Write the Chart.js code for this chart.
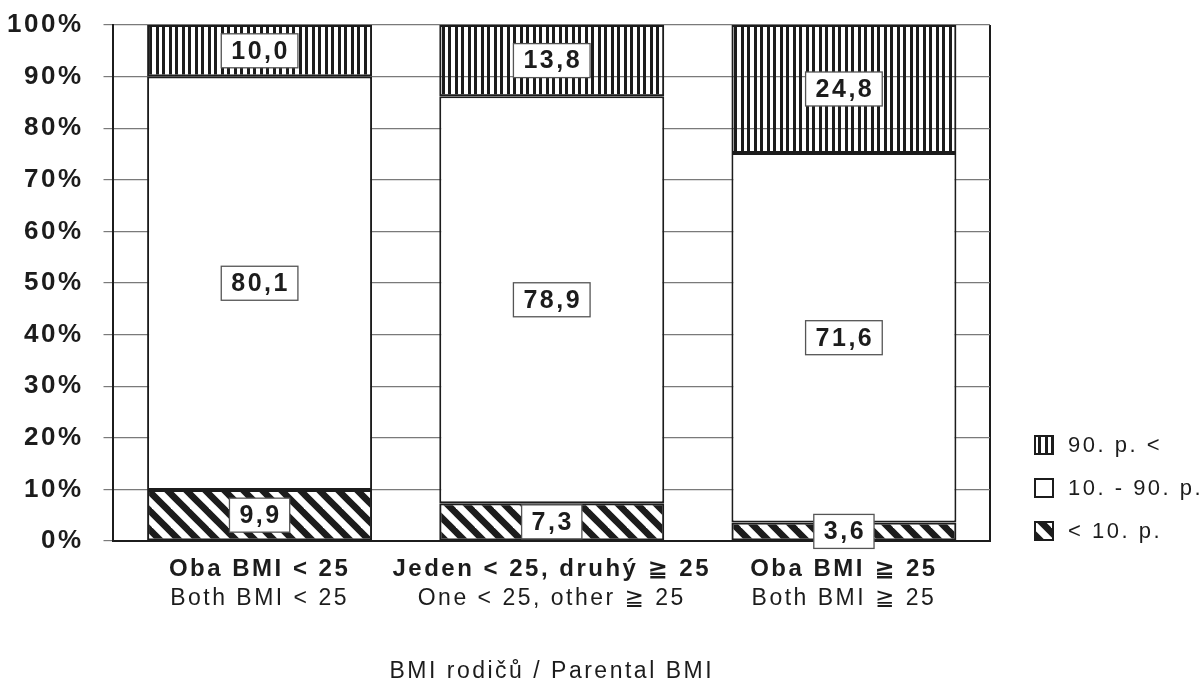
<!DOCTYPE html>
<html lang="cs">
<head>
<meta charset="utf-8">
<title>BMI rodičů / Parental BMI</title>
<script src="https://cdn.jsdelivr.net/npm/chart.js@4.4.1/dist/chart.umd.min.js"></script>
<style>
  html, body { margin: 0; padding: 0; background: #fff; }
  #wrap { width: 1203px; height: 684px; }
</style>
</head>
<body>
<div id="wrap"><canvas id="chart" width="1203" height="684"></canvas></div>
<script>
// Categories: Czech (bold line) and English (regular line)
const categoriesCz = ['Oba BMI < 25', 'Jeden < 25, druhý ≧ 25', 'Oba BMI ≧ 25'];
const categoriesEn = ['Both BMI < 25', 'One < 25, other ≧ 25', 'Both BMI ≧ 25'];

// Percent of children in each percentile band
const below10 = [9.9, 7.3, 3.6];
const between10and90 = [80.1, 78.9, 71.6];
const above90 = [10.0, 13.8, 24.8];

const seriesLabels = ['< 10. p.', '10. - 90. p.', '90. p. <'];
const axisTitle = 'BMI rodičů / Parental BMI';

const FONT = '"Liberation Sans", "DejaVu Sans", Arial, sans-serif';
const INK = '#1c1c1c';
const TRACK = '2.5px';

// Fill patterns
function verticalStripes() {
  const t = document.createElement('canvas');
  t.width = 13; t.height = 4;
  const g = t.getContext('2d');
  g.fillStyle = INK;
  g.fillRect(0, 0, 3, 4);
  g.fillRect(6, 0, 3, 4);
  return g.createPattern(t, 'repeat');
}
function diagonalStripes() {
  const s = 19;
  const t = document.createElement('canvas');
  t.width = s; t.height = s;
  const g = t.getContext('2d');
  g.strokeStyle = INK;
  g.lineWidth = 6.6;
  for (let k = -1; k <= 1; k++) {
    g.beginPath();
    g.moveTo(k * s - 3, -3);
    g.lineTo(k * s + s + 3, s + 3);
    g.stroke();
  }
  return g.createPattern(t, 'repeat');
}
const patTop = verticalStripes();
const patBottom = diagonalStripes();

const fmt = v => v.toFixed(1).replace('.', ',');

// Tracked lettering for all canvas text
const tracking = {
  id: 'tracking',
  beforeUpdate(c) { c.ctx.letterSpacing = TRACK; },
  beforeLayout(c) { c.ctx.letterSpacing = TRACK; },
  beforeDraw(c) { c.ctx.letterSpacing = TRACK; }
};

// Boxed value labels in the middle of each segment
const valueBoxes = {
  id: 'valueBoxes',
  afterDatasetsDraw(chart) {
    const ctx = chart.ctx;
    ctx.save();
    ctx.font = 'bold 25px ' + FONT;
    ctx.textAlign = 'center';
    ctx.textBaseline = 'middle';
    chart.data.datasets.forEach((ds, d) => {
      const meta = chart.getDatasetMeta(d);
      meta.data.forEach((bar, i) => {
        const txt = fmt(ds.data[i]);
        const w = ctx.measureText(txt).width + 18;
        const h = 34;
        const cx = bar.x;
        const cy = (bar.y + bar.base) / 2;
        ctx.fillStyle = '#fff';
        ctx.fillRect(cx - w / 2, cy - h / 2, w, h);
        ctx.strokeStyle = '#555';
        ctx.lineWidth = 1.3;
        ctx.strokeRect(cx - w / 2, cy - h / 2, w, h);
        ctx.fillStyle = INK;
        ctx.fillText(txt, cx + 1, cy + 1);
      });
    });
    ctx.restore();
  }
};

// Legend column to the right of the plot, top band first
const sideLegend = {
  id: 'sideLegend',
  afterDraw(chart) {
    const ctx = chart.ctx;
    const area = chart.chartArea;
    const x0 = area.right + 45;
    const yStart = area.bottom - 96;
    const step = 43;
    const box = 18;
    ctx.save();
    ctx.font = '22px ' + FONT;
    ctx.textBaseline = 'middle';
    ctx.textAlign = 'left';
    const items = chart.data.datasets.slice().reverse();
    items.forEach((ds, k) => {
      const cy = yStart + k * step;
      const top = cy - box / 2;
      ctx.save();
      ctx.translate(x0 - 3, top - 9);
      ctx.fillStyle = ds.backgroundColor;
      ctx.fillRect(3, 9, box, box);
      ctx.restore();
      ctx.strokeStyle = INK;
      ctx.lineWidth = 2;
      ctx.strokeRect(x0, top, box, box);
      ctx.fillStyle = INK;
      ctx.fillText(ds.label, x0 + 33, cy + 1);
    });
    ctx.restore();
  }
};

const chart = new Chart(document.getElementById('chart'), {
  type: 'bar',
  data: {
    labels: categoriesCz,
    datasets: [
      { label: seriesLabels[0], data: below10, backgroundColor: patBottom },
      { label: seriesLabels[1], data: between10and90, backgroundColor: '#ffffff' },
      { label: seriesLabels[2], data: above90, backgroundColor: patTop }
    ]
  },
  options: {
    responsive: false,
    animation: false,
    events: [],
    layout: { padding: { left: -13, right: 213, top: 25, bottom: -1 } },
    datasets: {
      bar: {
        borderColor: INK,
        borderWidth: 2,
        borderSkipped: false,
        barPercentage: 1,
        categoryPercentage: 0.77
      }
    },
    plugins: {
      legend: { display: false },
      tooltip: { enabled: false }
    },
    scales: {
      x: {
        stacked: true,
        offset: true,
        grid: {
          offset: true,
          drawTicks: true,
          tickLength: 14,
          tickColor: 'rgba(0,0,0,0)',
          lineWidth: 2,
          color: c => (c.type === 'scale' || c.index === 0) ? INK : 'rgba(0,0,0,0)'
        },
        border: { display: true, color: INK, width: 2 },
        ticks: {
          color: INK,
          padding: 0,
          maxRotation: 0,
          autoSkip: false,
          font: { family: FONT, size: 24, weight: 'bold' }
        }
      },
      x2: {
        type: 'category',
        position: 'bottom',
        labels: categoriesEn,
        offset: true,
        grid: { display: false, drawTicks: false },
        border: { display: false },
        ticks: {
          color: INK,
          padding: 0.7,
          maxRotation: 0,
          autoSkip: false,
          font: { family: FONT, size: 23 }
        },
        title: {
          display: true,
          text: axisTitle,
          color: INK,
          padding: { top: 44.6, bottom: 0 },
          font: { family: FONT, size: 23 }
        }
      },
      y: {
        stacked: true,
        min: 0,
        max: 100,
        grid: { color: '#7a7a7a', lineWidth: 1.2, tickLength: 10, tickColor: '#7a7a7a' },
        border: { display: true, color: INK, width: 2 },
        ticks: {
          stepSize: 10,
          padding: 20,
          color: INK,
          font: { family: FONT, size: 26, weight: 'bold', lineHeight: 0.35 },
          callback: v => v + '%'
        }
      }
    }
  },
  plugins: [tracking, valueBoxes, sideLegend]
});
</script>
</body>
</html>
